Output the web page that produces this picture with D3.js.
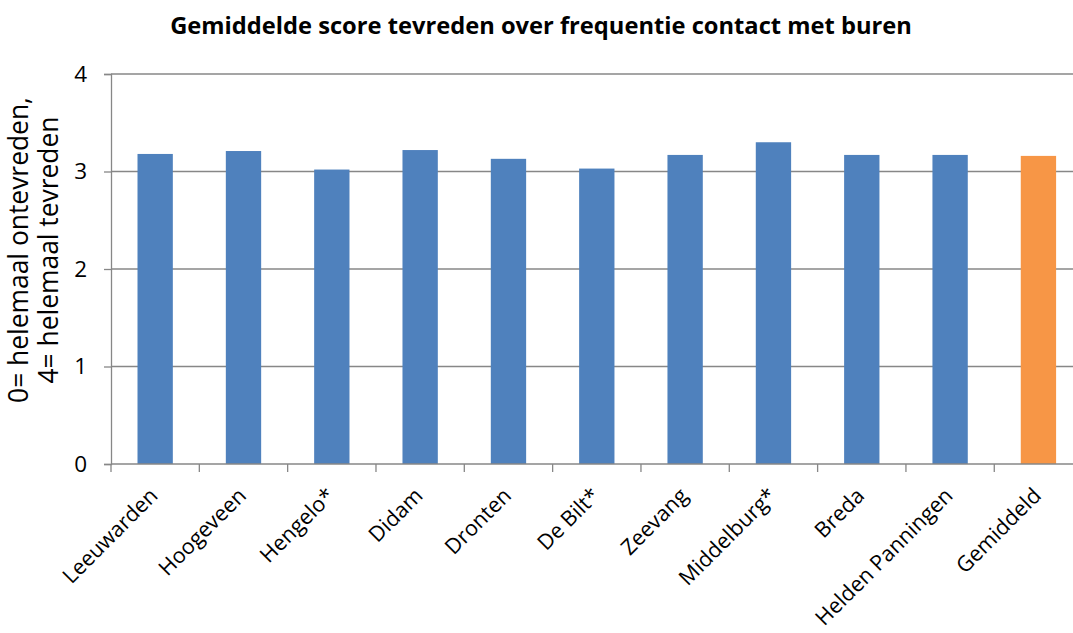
<!DOCTYPE html>
<html><head><meta charset="utf-8">
<script src="https://cdn.jsdelivr.net/npm/d3@7"></script>
<style>
html,body{margin:0;padding:0;background:#fff;overflow:hidden}
text{font-family:"Open Sans",Lato,sans-serif;fill:#000}
</style></head><body>
<svg id="chart" width="1073" height="633"></svg>
<script>
const categories = ["Leeuwarden","Hoogeveen","Hengelo*","Didam","Dronten","De Bilt*","Zeevang","Middelburg*","Breda","Helden Panningen","Gemiddeld"];
const values = [3.18,3.21,3.02,3.22,3.13,3.03,3.17,3.30,3.17,3.17,3.16];
const yTicks = [0,1,2,3,4];
const title = "Gemiddelde score tevreden over frequentie contact met buren";
const yTitleLines = ["0= helemaal ontevreden,","4= helemaal tevreden"];

const svg = d3.select("#chart");
const mLeft = 111, mRight = 1082.6, mTop = 74, mBottom = 464;
const x = d3.scaleBand().domain(categories).range([mLeft,mRight]).paddingInner(0.6).paddingOuter(0.3);
const y = d3.scaleLinear().domain([0,4]).range([mBottom,mTop]);

// fit a font size so that a sample string reaches a target width
function fitSize(sample, target, weight){
  const t = svg.append("text").style("font-size","20px").style("font-weight",weight||"normal").text(sample);
  const w = t.node().getComputedTextLength();
  t.remove();
  return 20*target/w;
}
const labelSize = fitSize("Leeuwarden",124);
const titleSize = fitSize(title,742,"bold");
const yTitleSize = fitSize(yTitleLines[0],306);

// gridlines
svg.append("g").selectAll("line").data(yTicks.filter(d=>d>0)).join("line")
  .attr("x1",mLeft).attr("x2",mRight).attr("y1",d=>y(d)).attr("y2",d=>y(d))
  .attr("stroke","#878787").attr("stroke-width",1.3);

// bars
svg.append("g").selectAll("rect").data(categories).join("rect")
  .attr("x",d=>x(d)).attr("width",x.bandwidth())
  .attr("y",(d,i)=>y(values[i])).attr("height",(d,i)=>y(0)-y(values[i]))
  .attr("fill",(d,i)=>d==="Gemiddeld"?"#F79646":"#4F81BD");

// y axis
const ya = svg.append("g").attr("transform",`translate(${mLeft},0)`)
  .call(d3.axisLeft(y).tickValues(yTicks).tickFormat(d3.format("d")).tickSize(7).tickPadding(17));
ya.select(".domain").attr("stroke","#878787").attr("stroke-width",1.3);
ya.selectAll(".tick line").attr("stroke","#878787").attr("stroke-width",1.3);
ya.selectAll(".tick text").style("font-size",(labelSize*1.05)+"px").style("font-family","'Open Sans',sans-serif").attr("fill","#000");

// x axis
const xTickPos = categories.map((d,i)=>mLeft + i*(mRight-mLeft)/categories.length);
xTickPos.push(mRight);
const xa = svg.append("g").attr("transform",`translate(0,${mBottom})`);
xa.append("line").attr("x1",mLeft).attr("x2",mRight).attr("stroke","#878787").attr("stroke-width",1.3);
xa.selectAll("line.t").data(xTickPos).join("line").attr("class","t")
  .attr("x1",d=>d).attr("x2",d=>d).attr("y1",0).attr("y2",8)
  .attr("stroke","#878787").attr("stroke-width",1.3);
xa.selectAll("text").data(categories).join("text")
  .attr("transform",d=>`translate(${x(d)+x.bandwidth()/2+4},${33}) rotate(-45)`)
  .attr("text-anchor","end")
  .style("font-size",labelSize+"px").text(d=>d);

// title
svg.append("text").attr("x",541).attr("y",34).attr("text-anchor","middle")
  .style("font-size",titleSize+"px").style("font-weight","bold").text(title);

// y title
const yt = svg.append("text").attr("transform",`translate(0,${250}) rotate(-90)`).attr("text-anchor","middle")
  .style("font-size",yTitleSize+"px");
yTitleLines.forEach((l,i)=>yt.append("tspan").attr("x",0).attr("y",i===0?28:58).text(l));
</script></body></html>
